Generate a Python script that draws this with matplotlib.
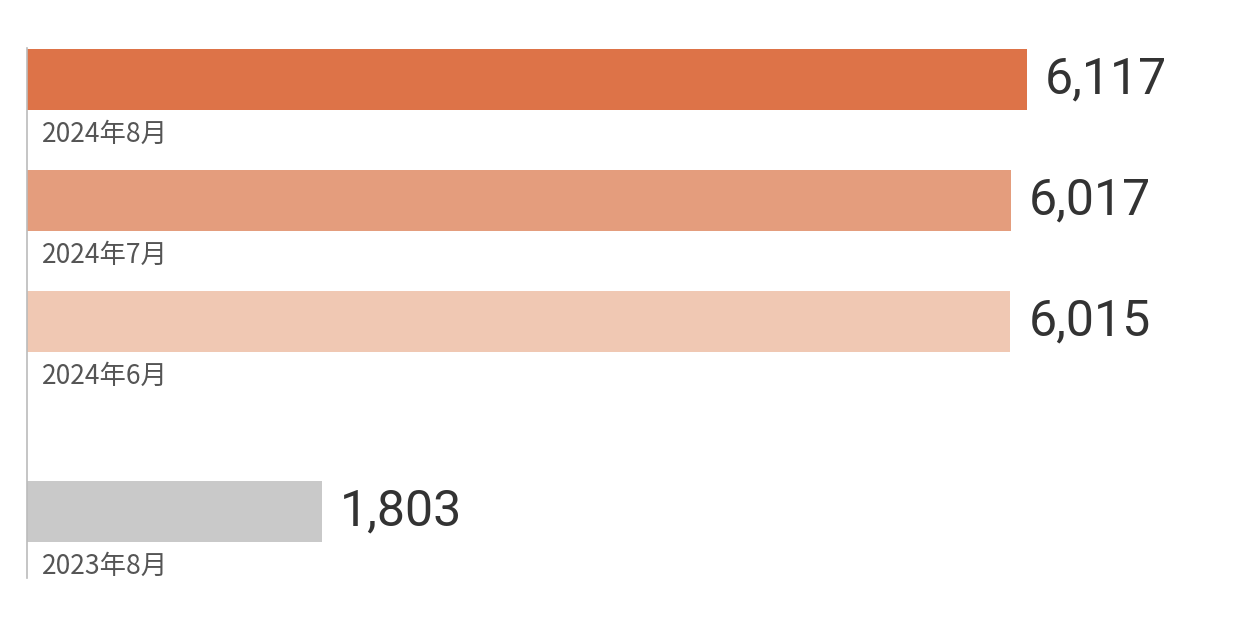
import matplotlib
matplotlib.use("Agg")
import matplotlib.pyplot as plt

categories = ["2024年8月", "2024年7月", "2024年6月", "2023年8月"]
values = [6117, 6017, 6015, 1803]
value_labels = ["6,117", "6,017", "6,015", "1,803"]
colors = ["#DD7348", "#E49D7D", "#F0C8B3", "#C9C9C9"]

plt.rcParams['font.family'] = ['Noto Sans CJK SC', 'DejaVu Sans']

fig = plt.figure(figsize=(12.4, 6.28), dpi=100)
# axes: left at x=27px, top at y=48px, bottom at y=578px
ax = fig.add_axes([27/1240, 1 - 578/628, 1 - 27/1240, (578 - 48)/628])

ypos = [0, 1, 2, 3.57]
bar_h = 61/121
ax.barh(ypos, values, height=bar_h, color=colors, align='center')
ax.set_xlim(0, 7420)
top = ypos[0] - bar_h/2 - 1/121
bottom = top + 530/121
ax.set_ylim(bottom, top)

for y, v, lab, cat in zip(ypos, values, value_labels, categories):
    ax.text(v + 110, y, lab, va='center', ha='left', fontsize=36,
            family=['Roboto', 'DejaVu Sans'], color='#333333')
    ax.annotate(cat, xy=(0, y + bar_h/2), xytext=(11, -8),
                textcoords='offset points', va='top', ha='left',
                fontsize=19, color='#555555')

for s in ['top', 'right', 'bottom']:
    ax.spines[s].set_visible(False)
ax.spines['left'].set_color('#BBBBBB')
ax.spines['left'].set_linewidth(1.2)
ax.set_xticks([])
ax.set_yticks([])

fig.savefig("out.png", dpi=100, facecolor='white')
